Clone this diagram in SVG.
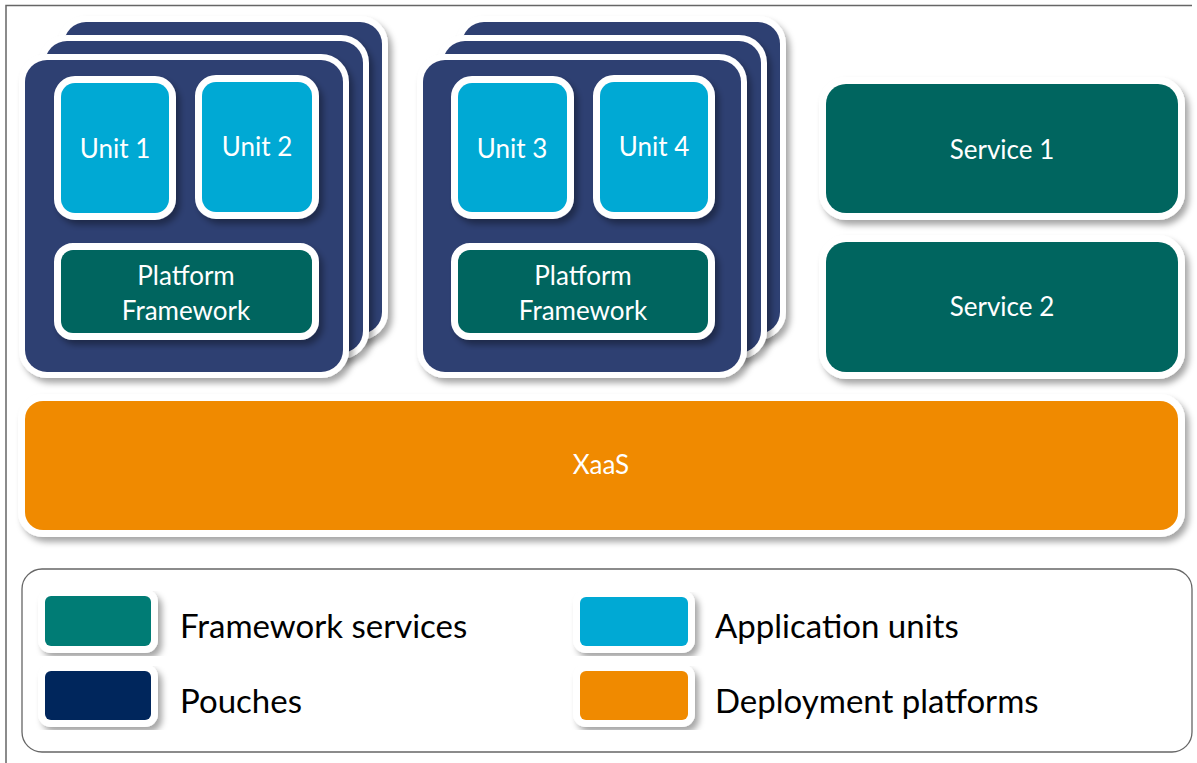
<svg xmlns="http://www.w3.org/2000/svg" width="1197" height="763" viewBox="0 0 1197 763">
  <defs>
    <filter id="shadow" x="-10%" y="-10%" width="130%" height="130%">
      <feDropShadow dx="4" dy="5" stdDeviation="3" flood-color="#000" flood-opacity="0.35"/>
    </filter>
  </defs>
  <style>
    .card { fill: #2F3F72; stroke: #fff; stroke-width: 12; paint-order: stroke; filter: url(#shadow); }
    .unit { fill: #00A9D4; stroke: #fff; stroke-width: 14; paint-order: stroke; filter: url(#shadow); }
    .fw { fill: #00655F; stroke: #fff; stroke-width: 14; paint-order: stroke; filter: url(#shadow); }
    .xaas { fill: #F08A00; stroke: #fff; stroke-width: 14; paint-order: stroke; filter: url(#shadow); }
    .swatch { stroke: #fff; stroke-width: 14; paint-order: stroke; filter: url(#shadow); }
    .lbl { font-family: Lato, "Liberation Sans", sans-serif; font-size: 26px; fill: #fff; text-anchor: middle; }
    .leg { font-family: Lato, "Liberation Sans", sans-serif; font-size: 33px; fill: #000; }
    .frame { stroke: #666; stroke-width: 1.5; fill: none; }
  </style>

  <rect width="1197" height="763" fill="#fff"/>
  <path class="frame" d="M6,763 V5.5 H1192"/>

  <!-- pouch stack A -->
  <g id="pouch-a">
    <rect class="card" x="64" y="22" width="318" height="312" rx="22"/>
    <rect class="card" x="45" y="41" width="318" height="312" rx="22"/>
    <rect class="card" x="25" y="60" width="318" height="312" rx="22"/>
  </g>
  <g id="unit-1">
    <rect class="unit" x="61" y="83" width="108" height="130" rx="14"/>
    <text class="lbl" x="115" y="158">Unit 1</text>
  </g>
  <g id="unit-2">
    <rect class="unit" x="202" y="82" width="110" height="130" rx="14"/>
    <text class="lbl" x="257" y="156">Unit 2</text>
  </g>
  <g id="framework-a">
    <rect class="fw" x="61" y="250" width="251" height="83" rx="12"/>
    <text class="lbl" x="186" y="285">Platform</text>
    <text class="lbl" x="186" y="320">Framework</text>
  </g>

  <!-- pouch stack B -->
  <g id="pouch-b">
    <rect class="card" x="462" y="22" width="318" height="312" rx="22"/>
    <rect class="card" x="443" y="41" width="318" height="312" rx="22"/>
    <rect class="card" x="423" y="60" width="318" height="312" rx="22"/>
  </g>
  <g id="unit-3">
    <rect class="unit" x="458" y="83" width="109" height="129" rx="14"/>
    <text class="lbl" x="512" y="158">Unit 3</text>
  </g>
  <g id="unit-4">
    <rect class="unit" x="600" y="82" width="108" height="130" rx="14"/>
    <text class="lbl" x="654" y="156">Unit 4</text>
  </g>
  <g id="framework-b">
    <rect class="fw" x="458" y="250" width="250" height="83" rx="12"/>
    <text class="lbl" x="583" y="285">Platform</text>
    <text class="lbl" x="583" y="320">Framework</text>
  </g>

  <!-- framework services -->
  <g id="service-1">
    <rect class="fw" x="826" y="84" width="352" height="129" rx="20"/>
    <text class="lbl" x="1002" y="159">Service 1</text>
  </g>
  <g id="service-2">
    <rect class="fw" x="826" y="242" width="352" height="130" rx="20"/>
    <text class="lbl" x="1002" y="316">Service 2</text>
  </g>

  <!-- deployment platform -->
  <g id="xaas">
    <rect class="xaas" x="25" y="401" width="1153" height="129" rx="18"/>
    <text class="lbl" x="601" y="474">XaaS</text>
  </g>

  <!-- legend -->
  <g id="legend">
    <rect x="22" y="569" width="1170" height="183" rx="20" fill="#fff" stroke="#666" stroke-width="1.3"/>
    <rect class="swatch" x="45" y="596" width="106" height="50" rx="6" fill="#007B75"/>
    <text class="leg" x="180" y="638">Framework services</text>
    <rect class="swatch" x="45" y="671" width="106" height="49" rx="6" fill="#00265C"/>
    <text class="leg" x="180" y="713">Pouches</text>
    <rect class="swatch" x="580" y="597" width="108" height="49" rx="6" fill="#00A9D4"/>
    <text class="leg" x="715" y="638">Application units</text>
    <rect class="swatch" x="580" y="671" width="108" height="49" rx="6" fill="#F08A00"/>
    <text class="leg" x="715" y="713">Deployment platforms</text>
  </g>

  <!-- no connectors in this figure -->
  <g id="connectors"/>
</svg>
